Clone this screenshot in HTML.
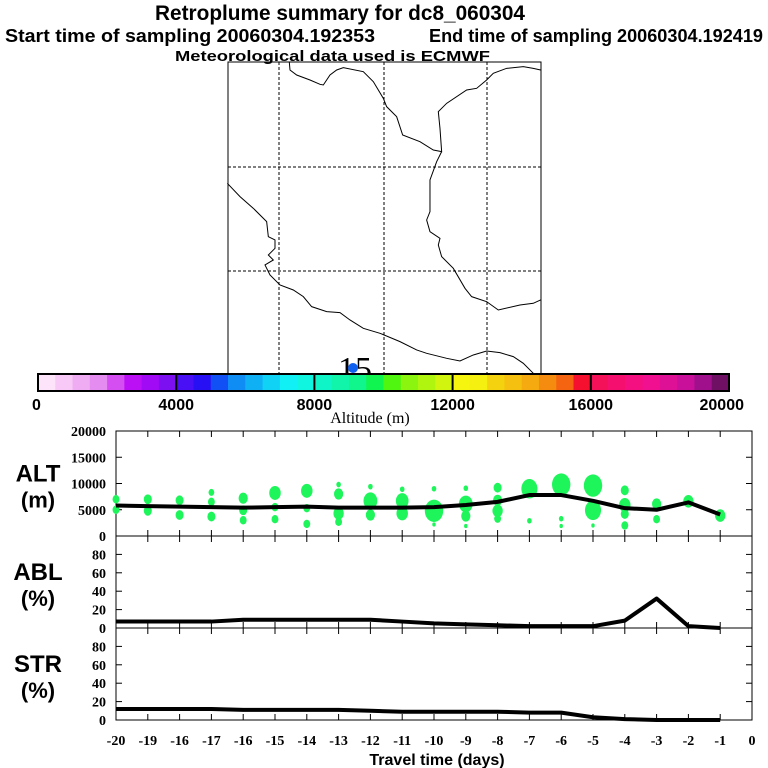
<!DOCTYPE html>
<html><head><meta charset="utf-8"><style>
body{margin:0;background:#fff;}
svg{display:block;font-family:"Liberation Sans",sans-serif;}
</style></head><body>
<svg id="c" width="768" height="768" viewBox="0 0 768 768">
<text x="155" y="20" textLength="370" lengthAdjust="spacingAndGlyphs" font-size="21" font-weight="bold">Retroplume summary for dc8_060304</text>
<text x="5" y="42" textLength="370" lengthAdjust="spacingAndGlyphs" font-size="18" font-weight="bold">Start time of sampling 20060304.192353</text>
<text x="429" y="42" textLength="334" lengthAdjust="spacingAndGlyphs" font-size="18" font-weight="bold">End time of sampling 20060304.192419</text>
<text x="175" y="61" textLength="315" lengthAdjust="spacingAndGlyphs" font-size="15" font-weight="bold">Meteorological data used is ECMWF</text>
<g>
<rect x="228" y="62" width="313" height="312" fill="none" stroke="#000" stroke-width="1"/>
<g stroke="#000" stroke-dasharray="3,2" stroke-width="1">
<line x1="279" y1="62" x2="279" y2="374"/><line x1="384" y1="62" x2="384" y2="374"/><line x1="487" y1="62" x2="487" y2="374"/>
<line x1="228" y1="167" x2="541" y2="167"/><line x1="228" y1="271" x2="541" y2="271"/>
</g>
<g transform="translate(220,55) scale(0.3333)" fill="none" stroke="#000" stroke-width="3">
<polyline points="208,22 210,45 230,60 270,75 300,88 310,90 330,60 350,45 370,38 430,50 460,80 490,130 500,155 530,185 548,240 600,260 640,285 665,290 660,220 655,170 680,145 740,105 770,100 800,75 820,55 860,40 910,35 940,40 962,45"/>
<polyline points="665,290 650,320 630,375 630,470 620,495 630,530 660,550 655,570 665,605 700,640 735,700 755,725 800,740 835,765 900,750 940,745 962,735"/>
<polyline points="22,385 60,425 100,460 140,500 145,545 165,555 165,580 145,600 160,615 135,630 150,660 180,690 220,705 250,725 275,755 320,770 360,773 390,795 430,820 480,835 540,860 590,885 620,895 680,910 720,918 760,900 800,888 840,893 880,905 910,925 940,955"/>
</g>
<text x="355" y="380" text-anchor="middle" font-size="34" font-family="Liberation Serif,serif">15</text>
<circle cx="353" cy="368" r="5" fill="#1060f0"/>
</g>
<g id="cbar"></g>
<text x="370" y="423" text-anchor="middle" font-size="16" font-family="Liberation Serif,serif">Altitude (m)</text>
<g id="plots"></g>
<text x="437" y="765" text-anchor="middle" font-size="16" font-weight="bold">Travel time (days)</text>
</svg>
<script>
const cbColors=["#fde4fa","#f8c8f6","#f0acf2","#e48cf0","#d44ef2","#bb10f5","#a00af5","#7d10f0","#4a10f5","#2810f5","#1050f5","#108cf5","#10b0f5","#10d2f5","#10f0f5","#10f5e0","#10f5c8","#10f5aa","#10f58c","#10f550","#50f510","#8cf510","#b0f510","#d2f510","#f5f510","#f5f010","#f5d210","#f5c010","#f5aa10","#f58c10","#f56410","#f51030","#f5105a","#f51070","#f51082","#f01090","#dd1096","#c8109a","#a0108c","#701064"];
const cbTicks=[0,4000,8000,12000,16000,20000];
const days=[-20,-19,-18,-17,-16,-15,-14,-13,-12,-11,-10,-9,-8,-7,-6,-5,-4,-3,-2,-1];
const altLine=[5800,5700,5600,5500,5400,5500,5600,5400,5400,5400,5500,5900,6500,7800,7800,6700,5300,5000,6400,4100];
const ablLine=[7,7,7,7,9,9,9,9,9,7,5,4,3,2,2,2,8,32,2,0];
const strLine=[12,12,12,12,11,11,11,11,10,9,9,9,9,8,8,3,1,0,0,0];
const bubDay=[-20,-20,-19,-19,-18,-18,-17,-17,-17,-16,-16,-16,-15,-15,-15,-14,-14,-14,-13,-13,-13,-13,-12,-12,-12,-11,-11,-11,-10,-10,-10,-9,-9,-9,-9,-8,-8,-8,-8,-7,-7,-6,-6,-6,-5,-5,-5,-4,-4,-4,-4,-3,-3,-2,-1];
const bubAlt=[7000,5000,7000,4800,6800,4000,8300,6500,3700,7200,4900,3000,8200,5500,3200,8600,5300,2300,9800,8000,4300,2700,9400,6700,4000,8900,6700,4300,9000,4800,2200,9100,6100,3800,1900,9200,6800,4800,3300,9000,2900,9800,3300,1900,9600,4900,2000,8700,5900,4200,2000,6100,3200,6600,3900];
const bubSize=[3,3,3.5,3.5,3.5,3.5,2.5,3,3.5,4,3.5,3,5,3,3,5,3,3,2,4,4.5,3,2,6,4,2,5.5,5,2,8,1.5,2,6,4,1.5,3.5,4,4.5,3,7,2,8,2,1.5,8,7,1.5,3.5,5,3.5,3,4,3,4.5,4.5];
const xTickLabels=["-20","-19","-16","-17","-16","-15","-14","-13","-12","-11","-10","-9","-8","-7","-6","-5","-4","-3","-2","-1","0"];
const altTicks=[0,5000,10000,15000,20000];
const pctTicks=[0,20,40,60,80];

const NS="http://www.w3.org/2000/svg";
function mk(t,a,p){const e=document.createElementNS(NS,t);for(const k in a)e.setAttribute(k,a[k]);p.appendChild(e);return e;}
const cb=document.getElementById('cbar');const cbX0=38,cbX1=729,cbY=374,cbH=17;
const cbx=v=>cbX0+(cbX1-cbX0)*v/20000;
cbColors.forEach((c,i)=>{const r=mk('rect',{x:cbx(i*500),y:cbY,width:cbx((i+1)*500)-cbx(i*500)+0.5,height:cbH,fill:c},cb);

});
mk('rect',{x:cbX0,y:cbY,width:cbX1-cbX0,height:cbH,fill:'none',stroke:'#000','stroke-width':2},cb);
cbTicks.forEach(v=>{mk('line',{x1:cbx(v),x2:cbx(v),y1:cbY,y2:cbY+cbH,stroke:'#000','stroke-width':2},cb);
const t=mk('text',{x:cbx(v),y:410,'text-anchor':v==0?'start':(v==20000?'end':'middle'),'font-size':16,'font-weight':'bold'},cb);t.textContent=v;
if(v==0)t.setAttribute('x',cbX0-6);if(v==20000)t.setAttribute('x',cbX1+15);

});
const X0=116,X1=752;const x=d=>X0+(d+20)*(X1-X0)/20;
const P=document.getElementById('plots');
const panels=[{name:'alt',top:431,bot:536,max:20000,ticks:altTicks,l1:'ALT',l2:'(m)'},
{name:'abl',top:536,bot:628,max:100,ticks:pctTicks,l1:'ABL',l2:'(%)'},
{name:'str',top:628,bot:720,max:100,ticks:pctTicks,l1:'STR',l2:'(%)'}];
panels.forEach(p=>{
 const g=mk('g',{},P);
 
 
 p.y=v=>p.bot-(p.bot-p.top)*v/p.max;
 mk('rect',{x:X0,y:p.top,width:X1-X0,height:p.bot-p.top,fill:'none',stroke:'#000','stroke-width':1},g);
 p.ticks.forEach(v=>{const yy=p.y(v);
  mk('line',{x1:X0,x2:X0+6,y1:yy,y2:yy,stroke:'#000'},g);mk('line',{x1:X1,x2:X1-6,y1:yy,y2:yy,stroke:'#000'},g);
  const t=mk('text',{x:106,y:yy+5,'text-anchor':'end','font-size':14,'font-family':'Liberation Serif,serif','font-weight':'bold'},g);t.textContent=v;
  
  });
 for(let d=-20;d<=0;d++){mk('line',{x1:x(d),x2:x(d),y1:p.bot,y2:p.bot-6,stroke:'#000'},g);mk('line',{x1:x(d),x2:x(d),y1:p.top,y2:p.top+6,stroke:'#000'},g);}
 const mid=(p.top+p.bot)/2;
 const a=mk('text',{x:38,y:mid-2,'text-anchor':'middle','font-size':24,'font-weight':'bold'},g);a.textContent=p.l1;
 
 
 const b=mk('text',{x:38,y:mid+24,'text-anchor':'middle','font-size':22,'font-weight':'bold'},g);b.textContent=p.l2;
 
 
 p.g=g;
});
const pa=panels[0];
bubDay.forEach((d,i)=>{const e=mk('ellipse',{cx:x(d),cy:pa.y(bubAlt[i]),rx:bubSize[i]*1.15,ry:bubSize[i]*1.4,fill:'#1ef55a'},pa.g);

});
function line(p,vals,nm){const pts=days.map((d,i)=>x(d)+','+p.y(vals[i])).join(' ');
 const l=mk('polyline',{points:pts,fill:'none',stroke:'#000','stroke-width':4,'stroke-linejoin':'round'},p.g);
 
 }
line(panels[0],altLine,'alt-median-line');line(panels[1],ablLine,'abl-line');line(panels[2],strLine,'str-line');
xTickLabels.forEach((s,i)=>{const t=mk('text',{x:x(i-20),y:745,'text-anchor':'middle','font-size':14,'font-family':'Liberation Serif,serif','font-weight':'bold'},P);t.textContent=s;

});
</script>
</body></html>
